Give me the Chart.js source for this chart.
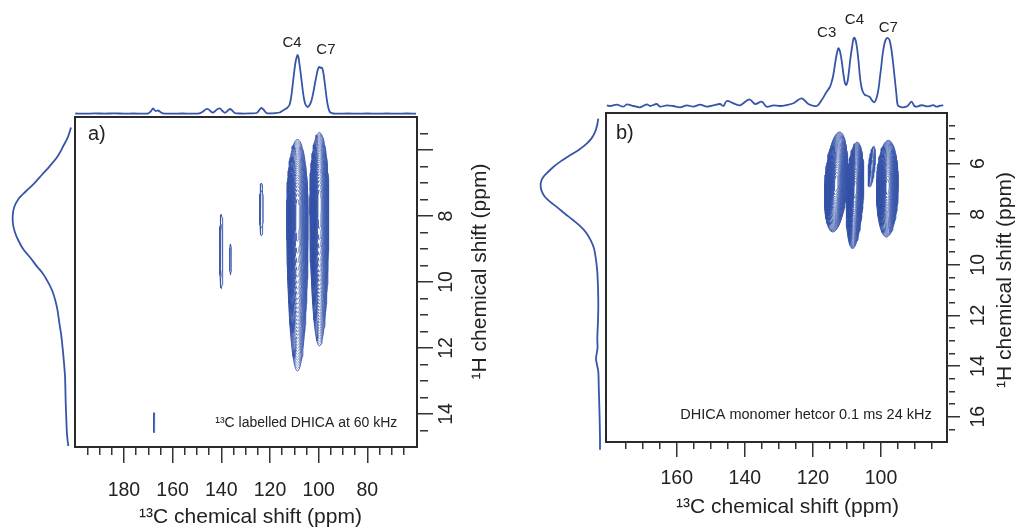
<!DOCTYPE html>
<html><head><meta charset="utf-8">
<script src="https://cdn.jsdelivr.net/npm/chart.js@4/dist/chart.umd.min.js"></script>
<style>
html,body{margin:0;padding:0;background:#fff;overflow:hidden;width:1017px;height:529px}
#wrap{position:relative;width:1017px;height:529px;background:#fff}
canvas{position:absolute}
</style></head><body><div id="wrap">
<canvas id="topA" width="342" height="117" style="left:75px;top:0px"></canvas>
<canvas id="leftA" width="75" height="330" style="left:0px;top:117px"></canvas>
<canvas id="mainA" width="427" height="417" style="left:70px;top:112px"></canvas>
<canvas id="topB" width="341" height="113" style="left:606px;top:0px"></canvas>
<canvas id="leftB" width="86" height="344" style="left:520px;top:108px"></canvas>
<canvas id="mainB" width="416" height="421" style="left:601px;top:108px"></canvas>
</div>
<script>
// ================= DATA =================
// Panel a) 13C projection (top): chemical shift (ppm) and intensity (a.u.)
const topA_ppm = [200,196,192,188,184,180,176,172,170,169,168,167,166,165,164,160,156,152,149,147.5,146.5,145.5,144.5,143.5,142.5,141.5,140.5,139.5,138.5,137.5,136.5,135.5,134.5,132,128,125.5,124.5,123.5,122.5,121.5,120,118,116,115,114,113,112,111.5,111,110.5,110,109.5,109,108.7,108.3,108,107.5,107,106.5,106,105.5,105,104.5,104,103.5,103,102.5,102,101.5,101,100.5,100,99.6,99.2,98.8,98.4,98,97.5,97,96.5,96,95.5,95,94,92,88,84,80,76,72,68,64,60];
const topA_int = [0.5,0.3,0.6,0.4,0.6,0.4,0.5,0.4,0.6,2.5,5.5,3.0,3.5,2.0,0.6,0.4,0.5,0.3,0.6,2.5,4.5,5.0,3.0,1.5,3.0,5.0,5.5,3.0,1.2,3.0,5.0,3.5,1.0,0.5,0.6,1.0,3.5,6.0,4.0,1.0,0.6,0.8,1.5,3.0,4.5,6.0,9,14,22,33,43,52,57,59,57,52,43,33,23,15,10,8,7,8,10,13,18,24,31,37,43,46.5,47,46,46.5,45,40,31,21,12,6,2.5,1.2,0.5,0.3,0.5,0.3,0.5,0.3,0.5,0.3,0.5,0.4];
// Panel a) 1H projection (left)
const leftA_ppm = [5.32,5.6,5.88,6.2,6.48,6.75,7.04,7.25,7.49,7.75,8.0,8.25,8.5,8.75,9.01,9.25,9.52,9.75,10.02,10.25,10.52,10.85,11.23,11.6,12.02,12.45,12.85,13.25,13.65,14.05,14.46,14.75,14.97];
const leftA_int = [1,4,8.7,14.5,22,30,38.7,46,53.7,58,59.3,59,57,53.5,48.7,42,35.3,29,23.7,20,17,14.5,12.7,10.8,9.3,8,7,6.6,6.3,5.8,5.3,4.6,3.7];
// Panel a) 2D cross peaks: 13C centre, 1H top / bottom / widest row, 13C half width, tilt, contour levels
const peaksA_C    = [108.7, 99.7, 123.5, 140.0, 136.2, 167.6];
const peaksA_Htop = [5.68, 5.47, 7.0, 7.95, 8.86, 13.96];
const peaksA_Hbot = [12.7, 11.94, 8.6, 10.2, 9.79, 14.56];
const peaksA_Hmax = [7.9, 7.6, 7.8, 9.0, 9.3, 14.26];
const peaksA_W    = [4.4, 3.9, 0.75, 0.7, 0.35, 0.35];
const peaksA_tilt = [0, 0, 0, 0, 0, 0];
const peaksA_lev  = [30, 30, 2, 2, 1, 1];
const peakLabelsA = ['C4', 'C7'];

// Panel b) 13C projection (top)
const topB_ppm = [180.57,179.59,177.63,175.67,174.69,172.73,170.78,168.82,167.84,165.88,164.9,162.94,160.99,159.03,157.07,155.11,153.16,151.2,149.24,147.28,146.3,145.33,143.37,141.41,138.67,137.0,135.04,133.58,131.62,129.66,127.7,125.74,123.3,121.34,118.89,117.42,115.95,115,114.5,114,113.5,113,112.5,112,111.5,111,110.6,110.2,109.8,109.4,109,108.5,108.1,107.8,107.4,107,106.6,106.2,105.8,105.3,104.7,104.2,103.6,103.2,102.6,102,101.5,101,100.6,100.3,100,99.5,99,98.5,98,97.5,97,96.5,96,95.5,95.1,94.5,93.44,92.2,90.99,90.2,89.52,88.5,87.57,86.6,85.61,84.6,83.65,82.6,81.69];
const topB_int = [0.7,0,1.3,-0.7,1.7,0,-1.3,1.7,0,2,-0.7,0.7,0,-1.3,0.7,-0.7,1.3,-0.7,0.7,2,0,5,2.7,0.7,6.7,2,4.3,-0.7,0.7,0,1,2.7,7.7,2,0,6,14.3,19,24,31,42,52,57.7,54,44,31,23,21,25,35,47,59,67,68.3,65,57,45,30,20,14,11,10.5,9.5,8.7,5.5,3.7,6,12,20,29,37,52,62,67,68,66,58,45,29,13,1,-0.7,-1.3,0,4.3,0,-0.7,0.5,0.7,-0.3,0,0.8,-0.7,0.3,0.7];
// Panel b) 1H projection (left)
const leftB_ppm = [4.22,4.5,4.75,5.0,5.21,5.45,5.67,5.9,6.13,6.33,6.53,6.72,6.92,7.12,7.32,7.52,7.71,7.98,8.24,8.5,8.76,9.05,9.35,9.8,10.28,10.9,11.59,12.2,12.91,13.3,13.7,13.95,14.22,14.9,15.54,16.2,16.85,17.31];
const leftB_int = [2.7,4,6,9.5,14.3,22,31,40,47.7,53,57.7,60,60.3,59,56,50.5,44.3,36,27.7,20,14.3,10,7,5,3.7,3,2.7,3,3.7,3.5,5,4,2.7,2.2,1.7,1.3,1,1];
// Panel b) 2D cross peaks
const peaksB_C    = [113.2, 107.6, 102.7, 98.1];
const peaksB_Htop = [4.75, 5.15, 5.32, 5.08];
const peaksB_Hbot = [8.7, 9.35, 6.92, 8.9];
const peaksB_Hmax = [6.8, 7.0, 6.1, 6.9];
const peaksB_W    = [3.3, 2.5, 0.9, 3.2];
const peaksB_tilt = [0.5, 0.33, 0.75, 0.15];
const peaksB_lev  = [40, 40, 10, 40];
const peakLabelsB = ['C3', 'C4', 'C7'];

// Axis ticks
const xTicksA = [195,190,185,180,175,170,165,160,155,150,145,140,135,130,125,120,115,110,105,100,95,90,85,80,75,70,65];
const xMajorA = [180,160,140,120,100,80];
const yTicksA = [5.5,6,6.5,7,7.5,8,8.5,9,9.5,10,10.5,11,11.5,12,12.5,13,13.5,14,14.5];
const yMajorA = [6,8,10,12,14];
const yLabelsA = [8,10,12,14];
const xTicksB = [175,170,165,160,155,150,145,140,135,130,125,120,115,110,105,100,95,90,85];
const xMajorB = [160,140,120,100];
const yTicksB = [4.5,5,5.5,6,6.5,7,7.5,8,8.5,9,9.5,10,10.5,11,11.5,12,12.5,13,13.5,14,14.5,15,15.5,16,16.5];
const yMajorB = [6,8,10,12,14,16];
const yLabelsB = [6,8,10,12,14,16];

// ================= RENDER =================
const FONT = "'Liberation Sans', Arial, Helvetica, sans-serif";
Chart.defaults.font.family = FONT;
Chart.defaults.color = '#222';
const BLUE = '#3755a8';
const INK = '#222';

function pts(xs, ys){ return xs.map((x,i)=>({x:x, y:ys[i]})); }

function ring(c, yt, yb, ym, w, tilt, f){
  const out=[];
  const N=72;
  for(let i=0;i<=N;i++){
    const th=i/N*2*Math.PI, u=Math.cos(th), v=Math.sin(th);
    const y = u>=0 ? ym - u*(ym-yt)*f : ym - u*(yb-ym)*f;
    out.push({x: c + v*w*f + tilt*(y-ym), y:y});
  }
  return out;
}
function contourSets(C,Ht,Hb,Hm,W,T,L){
  const sets=[];
  C.forEach((c,i)=>{
    const n=L[i];
    for(let k=0;k<n;k++){
      const f=Math.sqrt(1-k/n);
      sets.push({data:ring(c,Ht[i],Hb[i],Hm[i],W[i],T[i],f),showLine:true,pointRadius:0,
        borderColor:BLUE,borderWidth:k===0?0.9:0.55,fill:false,tension:0});
    }
  });
  return sets;
}

const deco = {
  id:'deco',
  afterDatasetsDraw(chart, args, o){
    const ctx=chart.ctx, a=chart.chartArea;
    ctx.save();
    if(o.box){
      ctx.strokeStyle='#2a2a2a'; ctx.lineWidth=2;
      ctx.strokeRect(a.left,a.top,a.right-a.left,a.bottom-a.top);
    }
    (o.texts||[]).forEach(t=>{
      ctx.save();
      ctx.font = t.size+'px '+FONT;
      ctx.fillStyle = INK;
      ctx.textAlign = t.align||'center';
      ctx.textBaseline = 'middle';
      ctx.translate(a.left+t.x, a.top+t.y);
      if(t.rot) ctx.rotate(t.rot*Math.PI/180);
      ctx.fillText(t.text,0,0);
      ctx.restore();
    });
    (o.marks||[]).forEach(t=>{
      ctx.font = t.size+'px '+FONT;
      ctx.fillStyle = INK; ctx.textAlign='center'; ctx.textBaseline='middle';
      ctx.fillText(t.text, chart.scales.x.getPixelForValue(t.x), chart.scales.y.getPixelForValue(t.y));
    });
    ctx.restore();
  }
};

function xAxis(min,max,list,major,labels,majLen,minLen,pad,h){
  return {type:'linear',position:'bottom',min:min,max:max,reverse:true,
    afterBuildTicks:s=>{s.ticks=list.map(v=>({value:v}));},
    afterFit:s=>{s.height=h;s.paddingLeft=0;s.paddingRight=0;},
    ticks:{autoSkip:false,minRotation:0,maxRotation:0,padding:pad,color:INK,font:{size:19.5},
      callback:v=>labels.includes(v)?String(v):''},
    grid:{display:true,drawOnChartArea:false,drawTicks:true,tickLength:majLen,lineWidth:1.5,tickWidth:1.5,color:'#333',tickColor:'#333',
      tickBorderDash:c=>(c.tick && major.includes(c.tick.value))?[]:[minLen,200]},
    border:{display:false}};
}
function yAxis(min,max,list,major,labels,majLen,gap,minLen,pad,w){
  return {type:'linear',position:'right',min:min,max:max,reverse:true,
    afterBuildTicks:s=>{s.ticks=list.map(v=>({value:v}));},
    afterFit:s=>{s.width=w;s.paddingTop=0;s.paddingBottom=0;},
    ticks:{autoSkip:false,minRotation:90,maxRotation:90,crossAlign:'center',padding:pad,color:INK,font:{size:19.5},
      callback:v=>labels.includes(v)?String(v):''},
    grid:{display:true,drawOnChartArea:false,drawTicks:true,tickLength:majLen,lineWidth:1.5,tickWidth:1.5,color:'#333',tickColor:'#333',
      tickBorderDash:c=>(c.tick && major.includes(c.tick.value))?[]:[0,gap,minLen,200]},
    border:{display:false}};
}
const hidden=(min,max,rev)=>({type:'linear',display:false,min:min,max:max,reverse:rev});
const base={responsive:false,animation:false,events:[],devicePixelRatio:1,
  plugins:{legend:{display:false},tooltip:{enabled:false}}};

function lineSet(data){return {data:data,showLine:true,pointRadius:0,borderColor:BLUE,borderWidth:1.8,fill:false,tension:0.3};}

// ---- Panel a ----
new Chart(document.getElementById('topA'),{type:'scatter',
  data:{datasets:[lineSet(pts(topA_ppm,topA_int))]},
  options:Object.assign({},base,{layout:{padding:0},
    scales:{x:hidden(59.6,200.1,true),y:hidden(-3,114,false)},
    plugins:{legend:{display:false},tooltip:{enabled:false},
      deco:{marks:[{text:peakLabelsA[0],x:110.95,y:70.7,size:15},{text:peakLabelsA[1],x:97.0,y:64,size:15}]}}}),
  plugins:[deco]});

new Chart(document.getElementById('leftA'),{type:'scatter',
  data:{datasets:[lineSet(pts(leftA_int,leftA_ppm))]},
  options:Object.assign({},base,{layout:{padding:0},
    scales:{x:hidden(-3,72,true),y:hidden(5,15,true)}})});

new Chart(document.getElementById('mainA'),{type:'scatter',
  data:{datasets:contourSets(peaksA_C,peaksA_Htop,peaksA_Hbot,peaksA_Hmax,peaksA_W,peaksA_tilt,peaksA_lev)},
  options:Object.assign({},base,{layout:{padding:{left:5,top:5,right:0,bottom:0}},
    scales:{x:xAxis(59.6,200.1,xTicksA,xMajorA,xMajorA,16,8,15.5,82),
            y:yAxis(5,15,yTicksA,yMajorA,yLabelsA,16,3,8,3.2,80)},
    plugins:{legend:{display:false},tooltip:{enabled:false},
      deco:{box:true,texts:[
        {text:'a)',x:13,y:17,size:20,align:'left'},
        {text:'¹³C labelled DHICA at 60 kHz',x:322.3,y:306.3,size:14,align:'right'},
        {text:'¹³C chemical shift (ppm)',x:175.5,y:400,size:21},
        {text:'¹H chemical shift (ppm)',x:405,y:154.5,size:21,rot:-90}]}}}),
  plugins:[deco]});

// ---- Panel b ----
new Chart(document.getElementById('topB'),{type:'scatter',
  data:{datasets:[lineSet(pts(topB_ppm,topB_int))]},
  options:Object.assign({},base,{layout:{padding:0},
    scales:{x:hidden(80.6,180.8,true),y:hidden(-7,106,false)},
    plugins:{legend:{display:false},tooltip:{enabled:false},
      deco:{marks:[{text:peakLabelsB[0],x:115.95,y:72.7,size:15},{text:peakLabelsB[1],x:107.8,y:86,size:15},{text:peakLabelsB[2],x:97.85,y:78.3,size:15}]}}}),
  plugins:[deco]});

new Chart(document.getElementById('leftB'),{type:'scatter',
  data:{datasets:[lineSet(pts(leftB_int,leftB_ppm))]},
  options:Object.assign({},base,{layout:{padding:0},
    scales:{x:hidden(-5,81,true),y:hidden(3.8,17.4,true)}})});

new Chart(document.getElementById('mainB'),{type:'scatter',
  data:{datasets:contourSets(peaksB_C,peaksB_Htop,peaksB_Hbot,peaksB_Hmax,peaksB_W,peaksB_tilt,peaksB_lev)},
  options:Object.assign({},base,{layout:{padding:{left:5,top:5,right:0,bottom:0}},
    scales:{x:xAxis(80.6,180.8,xTicksB,xMajorB,xMajorB,15,7,9.6,87),
            y:yAxis(4,17,yTicksB,yMajorB,yLabelsB,13,2,6,7.5,70)},
    plugins:{legend:{display:false},tooltip:{enabled:false},
      deco:{box:true,texts:[
        {text:'b)',x:10,y:20.3,size:20,align:'left'},
        {text:'DHICA monomer hetcor 0.1 ms 24 kHz',x:325.7,y:302,size:14.5,align:'right'},
        {text:'¹³C chemical shift (ppm)',x:181.5,y:394.3,size:21},
        {text:'¹H chemical shift (ppm)',x:399.5,y:167,size:21,rot:-90}]}}}),
  plugins:[deco]});
</script></body></html>
